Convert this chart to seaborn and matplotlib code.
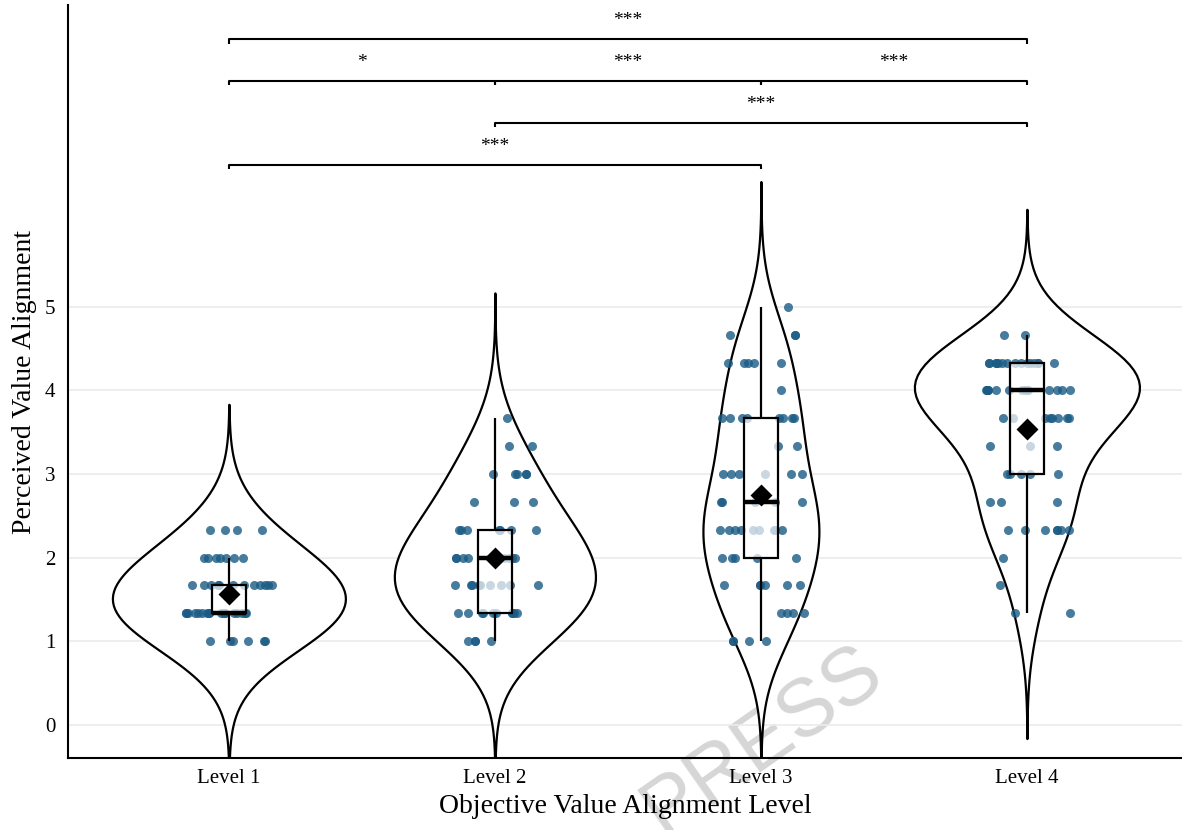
import numpy as np
import pandas as pd
import matplotlib
matplotlib.use("Agg")
import matplotlib.pyplot as plt
import seaborn as sns

# response grid (mean of three items -> steps of 1/3)
scores = [1.0, 1.333, 1.667, 2.0, 2.333, 2.667, 3.0, 3.333, 3.667, 4.0, 4.333, 4.667, 5.0]
levels = ["Level 1", "Level 2", "Level 3", "Level 4"]

# how many participants gave each score, per level
counts_l1 = [6, 18, 12, 7, 4, 0, 0, 0, 0, 0, 0, 0, 0]
counts_l2 = [4, 10, 9, 9, 7, 3, 5, 2, 1, 0, 0, 0, 0]
counts_l3 = [4, 4, 6, 5, 9, 5, 6, 2, 8, 1, 5, 3, 1]
counts_l4 = [0, 2, 1, 1, 7, 3, 5, 3, 8, 15, 15, 2, 0]

# significance brackets: (from, to, height, label)
brackets = [
    (0, 3, 8.2, "***"),
    (0, 1, 7.7, "*"),
    (1, 2, 7.7, "***"),
    (2, 3, 7.7, "***"),
    (1, 3, 7.2, "***"),
    (0, 2, 6.7, "***"),
]

# max width of each violin (as drawn in the original)
violin_widths = [0.876, 0.756, 0.436, 0.846]

rows = []
for lv, cnt in zip(levels, [counts_l1, counts_l2, counts_l3, counts_l4]):
    for s, c in zip(scores, cnt):
        rows += [(lv, s)] * c
df = pd.DataFrame(rows, columns=["level", "value"])

sns.set_style("white")
plt.rcParams["font.family"] = ["Liberation Serif", "DejaVu Serif"]
plt.rcParams.update({"text.color": "black", "axes.labelcolor": "black",
                     "xtick.color": "black", "ytick.color": "black"})

fig = plt.figure(figsize=(11.82, 8.3), dpi=100)
ax = fig.add_axes([0.0575, 0.0867, 0.9425, 0.907])
ax.set_facecolor("none")

def bw_fixed(kde):
    # same absolute bandwidth (0.5) for every group
    return 0.5 / kde.dataset.std(ddof=1)

for lv, w in zip(levels, violin_widths):
    sns.violinplot(data=df[df["level"] == lv], x="level", y="value", order=levels,
                   color="white", linecolor="black", linewidth=1.6, inner=None,
                   cut=3, bw_method=bw_fixed, density_norm="width", width=w, ax=ax)

np.random.seed(3)
sns.stripplot(data=df, x="level", y="value", order=levels, jitter=0.17,
              size=6.5, color="#1a5b85", alpha=0.8, linewidth=0, zorder=2, ax=ax)

sns.boxplot(data=df, x="level", y="value", order=levels, width=0.125,
            showfliers=False, showcaps=False, linecolor="black", linewidth=1.6,
            boxprops={"facecolor": (1, 1, 1, 0.7), "zorder": 3},
            whiskerprops={"zorder": 3},
            medianprops={"linewidth": 3.2, "zorder": 4}, ax=ax)

sns.pointplot(data=df, x="level", y="value", order=levels, estimator="mean",
              errorbar=None, color="black", markers="D", linestyles="none",
              markersize=9, zorder=5, ax=ax)

for x1, x2, y, lab in brackets:
    ax.plot([x1, x1, x2, x2], [y - 0.05, y, y, y - 0.05], color="black", lw=1.5,
            solid_capstyle="butt", clip_on=False)
    ax.text((x1 + x2) / 2, y + 0.12, lab, ha="center", va="bottom", fontsize=14)

ax.set_xlim(-0.605, 3.583)
ax.set_ylim(-0.4, 8.61)
ax.set_yticks([0, 1, 2, 3, 4, 5])
ax.yaxis.grid(True, color="#ebebeb", lw=1.2)
ax.set_axisbelow(True)
ax.tick_params(axis="both", length=0, labelsize=15)
ax.tick_params(axis="y", pad=9)
ax.tick_params(axis="x", pad=8)
for side in ["top", "right"]:
    ax.spines[side].set_visible(False)
for side in ["left", "bottom"]:
    ax.spines[side].set_color("black")
    ax.spines[side].set_linewidth(1.5)

ax.set_xlabel("Objective Value Alignment Level", fontsize=20, labelpad=4)
ax.set_ylabel("Perceived Value Alignment", fontsize=20, labelpad=6)

# watermark
fig.text(0.645, 0.108, "PRESS", fontsize=58, color="#d6d6d6", rotation=35,
         ha="center", va="center", family="Liberation Sans", zorder=-1)

fig.savefig("out.png", dpi=100)
